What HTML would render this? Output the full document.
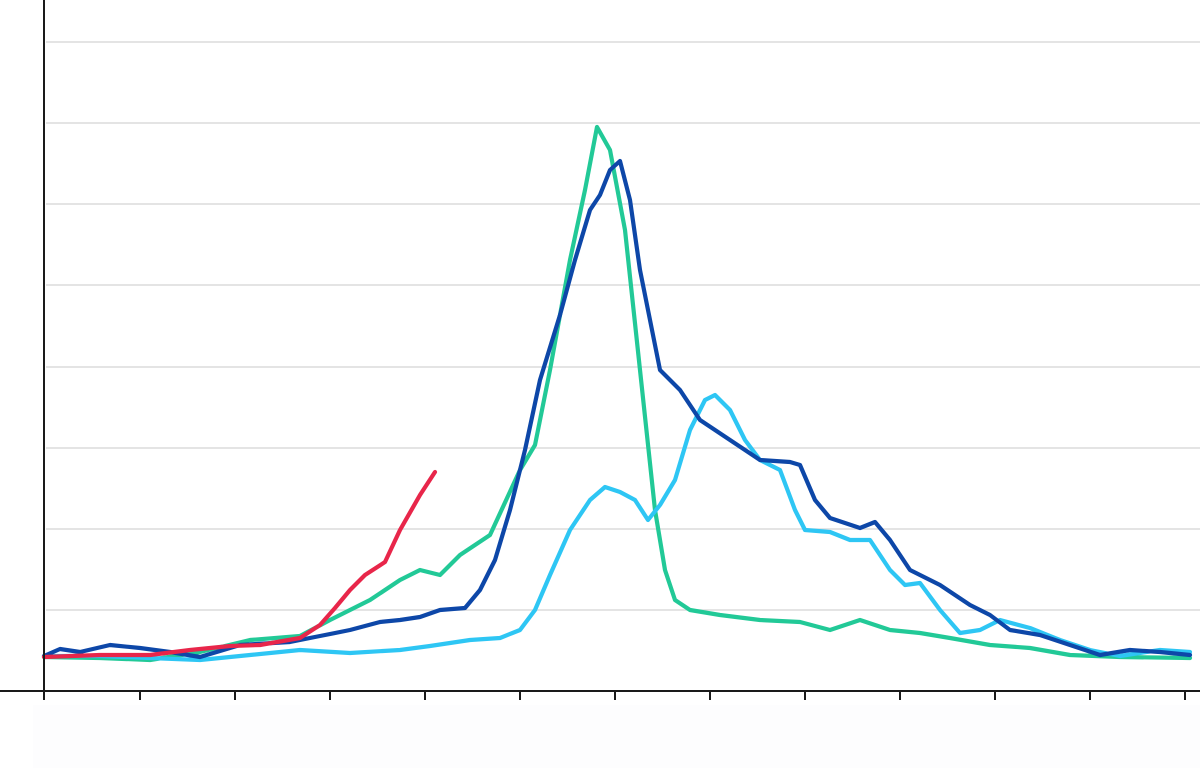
<!DOCTYPE html>
<html><head><meta charset="utf-8"><style>html,body{margin:0;padding:0;background:#fff;width:1200px;height:768px;overflow:hidden}</style></head>
<body>
<svg width="1200" height="768" viewBox="0 0 1200 768" xmlns="http://www.w3.org/2000/svg">
<rect x="33" y="705" width="1167" height="63" fill="#fdfdfe"/>
<g stroke="#dcdcdc" stroke-width="1.5">
<line x1="46" y1="42" x2="1200" y2="42"/><line x1="46" y1="123" x2="1200" y2="123"/>
<line x1="46" y1="204" x2="1200" y2="204"/><line x1="46" y1="285" x2="1200" y2="285"/>
<line x1="46" y1="367" x2="1200" y2="367"/><line x1="46" y1="448" x2="1200" y2="448"/>
<line x1="46" y1="529" x2="1200" y2="529"/><line x1="46" y1="610" x2="1200" y2="610"/>
</g>
<g fill="none" stroke-width="4.2" stroke-linejoin="round" stroke-linecap="round">
<polyline stroke="#22c997" points="44,657 100,658 150,660 200,652 250,640 300,636 330,620 370,600 400,580 420,570 440,575 460,555 490,535 520,470 535,445 550,370 570,260 585,190 597,127 610,150 625,230 640,370 655,510 665,570 675,600 690,610 720,615 760,620 800,622 830,630 860,620 890,630 920,633 950,638 990,645 1030,648 1070,655 1120,657 1190,658"/>
<polyline stroke="#2ec6f4" points="44,656 100,656 150,658 200,660 250,655 300,650 350,653 400,650 430,646 470,640 500,638 520,630 535,610 550,575 570,530 590,500 605,487 620,492 635,500 648,520 660,505 675,480 690,430 705,400 715,395 730,410 745,440 760,460 780,470 795,510 805,530 830,532 850,540 870,540 890,570 905,585 920,583 940,610 960,633 980,630 1000,620 1030,628 1060,640 1090,650 1120,656 1160,650 1190,652"/>
<polyline stroke="#0d47a8" points="44,656 60,649 80,652 110,645 140,648 170,652 200,657 240,645 290,642 320,636 350,630 380,622 400,620 420,617 440,610 465,608 480,590 495,560 510,510 525,450 540,380 560,315 575,260 590,210 600,195 610,170 620,161 630,200 640,270 650,320 660,370 680,390 700,420 730,440 760,460 790,462 800,465 815,500 830,518 860,528 875,522 890,540 910,570 940,585 970,605 990,615 1010,630 1040,635 1070,645 1100,655 1130,650 1160,652 1190,655"/>
<polyline stroke="#e8264a" points="44,657 100,655 150,655 190,650 230,646 260,645 300,638 320,625 335,608 350,590 365,575 385,562 400,530 420,495 435,472"/>
</g>
<g stroke="#1a1a1a" stroke-width="2">
<line x1="44" y1="0" x2="44" y2="700"/>
<line x1="0" y1="691" x2="1200" y2="691"/>
<line x1="140" y1="691" x2="140" y2="700"/><line x1="235" y1="691" x2="235" y2="700"/>
<line x1="330" y1="691" x2="330" y2="700"/><line x1="425" y1="691" x2="425" y2="700"/>
<line x1="520" y1="691" x2="520" y2="700"/><line x1="615" y1="691" x2="615" y2="700"/>
<line x1="710" y1="691" x2="710" y2="700"/><line x1="805" y1="691" x2="805" y2="700"/>
<line x1="900" y1="691" x2="900" y2="700"/><line x1="995" y1="691" x2="995" y2="700"/>
<line x1="1090" y1="691" x2="1090" y2="700"/><line x1="1185" y1="691" x2="1185" y2="700"/>
</g>
</svg>
</body></html>
